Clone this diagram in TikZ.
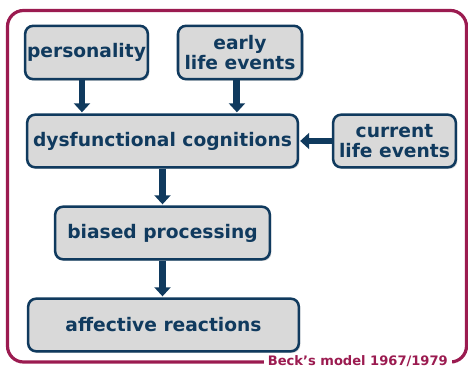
\documentclass[tikz,border=0pt]{standalone}
\usepackage{fontspec}
\setmainfont{DejaVu Sans}
\usepackage{tikz}
\usetikzlibrary{arrows.meta}
\usetikzlibrary{shadows}
\usepackage{xcolor}
\definecolor{navy}{RGB}{16,58,94}
\definecolor{boxgray}{RGB}{217,217,217}
\definecolor{maroon}{RGB}{155,27,80}

\begin{document}
\begin{tikzpicture}[x=0.75pt,y=0.75pt,yscale=-1,xscale=1,
  stage/.style={draw=navy, fill=boxgray, line width=1.9pt, rounded corners=6pt,
    inner sep=0pt, align=center, text=navy,
    font=\fontsize{14}{15}\selectfont\bfseries,
    drop shadow={shadow xshift=1.2pt, shadow yshift=-1.2pt, opacity=0.3}},
  flow/.style={draw=navy, line width=5.2pt, -{Triangle[width=12pt, length=6.8pt]}, shorten >=0.8pt}]
\useasboundingbox (0,0) rectangle (468,367);

%Shape: Frame
\draw [maroon, line width=2.4pt, rounded corners=12pt] (7.5,10.5) rectangle (466.5,362) ;

% Text Node
\draw (86.5,52.5) node [stage, minimum width=92pt, minimum height=40pt] (pers) {personality};
% Text Node
\draw (240,52.5) node [stage, minimum width=93pt, minimum height=40pt] (early) {early\\life events};
% Text Node
\draw (162.5,141) node [stage, minimum width=203pt, minimum height=39.5pt] (dys) {dysfunctional cognitions};
% Text Node
\draw (394.5,141) node [stage, minimum width=92pt, minimum height=39.5pt] (curr) {current\\life events};
% Text Node
\draw (162.5,233) node [stage, minimum width=161pt, minimum height=39.5pt] (bias) {biased processing};
% Text Node
\draw (163.5,325) node [stage, minimum width=203pt, minimum height=39.5pt] (aff) {affective reactions};

%Arrows
\draw [flow] ([xshift=-3.4pt]pers.south) -- ([xshift=-3.4pt]pers.south |- dys.north) ;
\draw [flow] ([xshift=-2.3pt]early.south) -- ([xshift=-2.3pt]early.south |- dys.north) ;
\draw [flow] (curr.west) -- (curr.west -| dys.east) ;
\draw [flow] (dys.south) -- (dys.south |- bias.north) ;
\draw [flow] (bias.south) -- (bias.south |- aff.north) ;

% Text Node
\draw (452,365) node [anchor=base east, fill=white, inner xsep=3pt, inner ysep=0.5pt, text=maroon, font=\fontsize{9.8}{10}\selectfont\bfseries] (caption) {Beck’s model 1967/1979};

\end{tikzpicture}
\end{document}
